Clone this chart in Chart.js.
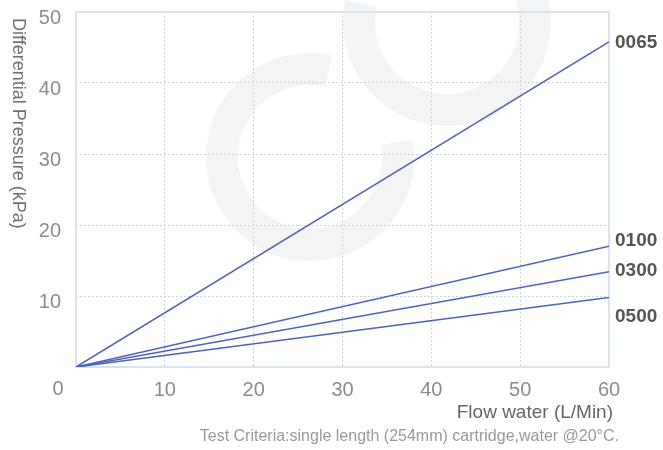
<!DOCTYPE html>
<html>
<head>
<meta charset="utf-8">
<script src="https://cdn.jsdelivr.net/npm/chart.js@4/dist/chart.umd.min.js"></script>
<style>
html, body { margin: 0; padding: 0; background: #fff; }
#wrap { width: 663px; height: 450px; }
</style>
</head>
<body>
<div id="wrap"><canvas id="chart"></canvas></div>
<script>
// flow (L/Min) at the two ends of each straight line
const flow = [0, 60];
const cartridges = ['0065', '0100', '0300', '0500'];
const dp0065 = [0, 45.8];
const dp0100 = [0, 17.0];
const dp0300 = [0, 13.4];
const dp0500 = [0, 9.8];
const xTicks = [0, 10, 20, 30, 40, 50, 60];
const yTicks = [0, 10, 20, 30, 40, 50];

const NARROW = '"Liberation Sans Narrow", "Liberation Sans", sans-serif';
const lineColor = '#4d62ba';
const gridColor = '#c9d5df';

function toPoints(ys) {
    return flow.map(function(x, i) { return { x: x, y: ys[i] }; });
}

const seriesValues = [dp0065, dp0100, dp0300, dp0500];

// extra drawing: faint logo, box, corner zero, titles, line names
const extras = {
    id: 'extras',
    beforeDraw: function(chart) {
        const ctx = chart.ctx;
        ctx.save();
        ctx.strokeStyle = '#f4f4f4';
        ctx.lineWidth = 32;
        ctx.lineCap = 'butt';
        ctx.beginPath();
        ctx.arc(310, 157, 88, -1.36, -0.17, true);
        ctx.stroke();
        ctx.beginPath();
        ctx.arc(447, 22, 88, -0.35, 3.35, false);
        ctx.stroke();
        ctx.restore();
    },
    beforeDatasetsDraw: function(chart) {
        const a = chart.chartArea;
        const ctx = chart.ctx;
        ctx.save();
        ctx.strokeStyle = '#dbe4ec';
        ctx.lineWidth = 2;
        ctx.strokeRect(a.left, a.top, a.right - a.left, a.bottom - a.top);
        ctx.restore();
    },
    afterDraw: function(chart) {
        const ctx = chart.ctx;
        const xs = chart.scales.x;
        const ys = chart.scales.y;
        ctx.save();

        ctx.fillStyle = '#8c8c8c';
        ctx.font = '20px ' + NARROW;
        ctx.textAlign = 'center';
        ctx.textBaseline = 'middle';
        ctx.fillText('0', xs.getPixelForValue(0) - 18, 389);

        // y title reads top to bottom
        ctx.save();
        ctx.translate(18, 18);
        ctx.rotate(Math.PI / 2);
        ctx.fillStyle = '#707070';
        ctx.font = '18px ' + NARROW;
        ctx.textAlign = 'left';
        ctx.fillText('Differential Pressure (kPa)', 0, 0);
        ctx.restore();

        ctx.textAlign = 'right';
        ctx.fillStyle = '#666666';
        ctx.font = '19px ' + NARROW;
        ctx.fillText('Flow water (L/Min)', 613, 413);

        ctx.fillStyle = '#999999';
        ctx.font = '16px ' + NARROW;
        ctx.fillText('Test Criteria:single length (254mm) cartridge,water @20\u00B0C.', 619, 437);

        const nudge = [1, -6, -1, 19];
        ctx.textAlign = 'left';
        ctx.fillStyle = '#555555';
        ctx.font = 'bold 19px ' + NARROW;
        cartridges.forEach(function(name, i) {
            const vals = seriesValues[i];
            const y = ys.getPixelForValue(vals[vals.length - 1]) + nudge[i];
            ctx.fillText(name, xs.right + 6, y);
        });
        ctx.restore();
    }
};

new Chart(document.getElementById('chart').getContext('2d'), {
    type: 'line',
    data: {
        datasets: cartridges.map(function(name, i) {
            return {
                label: name,
                data: toPoints(seriesValues[i]),
                borderColor: lineColor,
                borderWidth: 1.5,
                pointRadius: 0,
                fill: false,
                tension: 0
            };
        })
    },
    options: {
        responsive: true,
        maintainAspectRatio: false,
        animation: false,
        layout: { padding: { top: 12, right: 54, left: 0, bottom: 0 } },
        plugins: {
            legend: { display: false },
            tooltip: { enabled: false }
        },
        scales: {
            x: {
                type: 'linear',
                min: 0,
                max: 60,
                afterFit: function(s) { s.height = 83; s.paddingLeft = 0; s.paddingRight = 0; },
                afterBuildTicks: function(s) { s.ticks = xTicks.map(function(v) { return { value: v }; }); },
                ticks: {
                    callback: function(v) { return v === 0 ? '' : v; },
                    color: '#8c8c8c',
                    font: { family: NARROW, size: 20 },
                    padding: 11,
                    maxRotation: 0
                },
                grid: { color: gridColor, drawTicks: false, lineWidth: 1 },
                border: { display: false, dash: [2, 2] }
            },
            y: {
                min: 0,
                max: 50,
                afterFit: function(s) { s.width = 76; s.paddingTop = 0; s.paddingBottom = 0; },
                afterBuildTicks: function(s) { s.ticks = yTicks.map(function(v) { return { value: v }; }); },
                ticks: {
                    callback: function(v) { return v === 0 ? '' : v; },
                    color: '#8c8c8c',
                    font: { family: NARROW, size: 20 },
                    padding: 15,
                    labelOffset: 6
                },
                grid: { color: gridColor, drawTicks: false, lineWidth: 1 },
                border: { display: false, dash: [2, 2] }
            }
        }
    },
    plugins: [extras]
});
</script>
</body>
</html>
